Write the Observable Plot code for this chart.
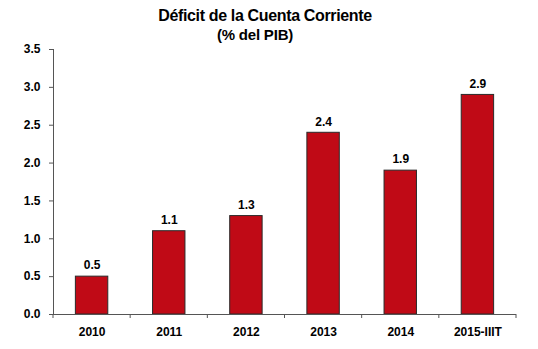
<!DOCTYPE html>
<html>
<head>
<meta charset="utf-8">
<script src="https://cdn.jsdelivr.net/npm/d3@7"></script>
<script src="https://cdn.jsdelivr.net/npm/@observablehq/plot@0.6"></script>
<style>
  body { margin: 0; background: #fff; font-family: "Liberation Sans", Arial, sans-serif; }
  #wrap { width: 538px; position: relative; }
  #title { position: absolute; left: 0; width: 530px; top: 7px; line-height: 18px; text-align: center; font-weight: bold; font-size: 16px; letter-spacing: -0.35px; color: #000; }
  #subtitle { position: absolute; left: 0; width: 510px; top: 26px; line-height: 18px; text-align: center; font-weight: bold; font-size: 15px; letter-spacing: -0.2px; color: #000; }
  #head { height: 40px; position: relative; }
  svg { display: block; }
</style>
</head>
<body>
<div id="wrap">
  <div id="head">
    <div id="title">Déficit de la Cuenta Corriente</div>
    <div id="subtitle">(% del PIB)</div>
  </div>
  <div id="chart"></div>
</div>
<script>
const categories = ["2010", "2011", "2012", "2013", "2014", "2015-IIIT"];
const values = [0.5, 1.1, 1.3, 2.4, 1.9, 2.9];
const yTicks = [0, 0.5, 1.0, 1.5, 2.0, 2.5, 3.0, 3.5];

const data = categories.map((c, i) => ({cat: c, i, value: values[i]}));
const boundaries = d3.range(categories.length + 1);

const axisColor = "#555";
const barFill = "#C00A16";

const plot = Plot.plot({
  width: 538,
  height: 309,
  marginTop: 9,
  marginBottom: 35,
  marginLeft: 53,
  marginRight: 22,
  style: { fontFamily: "'Liberation Sans', Arial, sans-serif", fontSize: "12px", fontWeight: "bold", color: "#000", background: "#fff" },
  x: { domain: [0, categories.length], axis: null },
  y: { domain: [0, 3.5], ticks: yTicks, tickFormat: d3.format(".1f"), label: null },
  marks: [
    Plot.rectY(data, { x1: d => d.i + 0.29, x2: d => d.i + 0.71, y1: 0, y2: "value", fill: barFill, stroke: "#2a2a2a", strokeWidth: 1 }),
    Plot.axisY({ ticks: yTicks, tickFormat: d3.format(".1f"), tickSize: 4, tickPadding: 9, label: null, stroke: axisColor, strokeOpacity: 1, fill: "#000", fontWeight: "bold", fontSize: 12 }),
    Plot.ruleX([0], { stroke: axisColor }),
    Plot.ruleY([0], { stroke: axisColor }),
    Plot.text(data, { x: d => d.i + 0.5, y: 0, text: "cat", dy: 18, fill: "#000", fontWeight: "bold", fontSize: 12 }),
    Plot.text(data, { x: d => d.i + 0.5, y: "value", text: d => d3.format(".1f")(d.value), dy: -11, fill: "#000", fontWeight: "bold", fontSize: 12 })
  ]
});
document.getElementById("chart").appendChild(plot);

// x-axis tick marks at category boundaries, drawn through the x scale
const xs = plot.scale("x");
const ys = plot.scale("y");
const svg = d3.select(plot);
svg.append("g").selectAll("line").data(boundaries).join("line")
  .attr("x1", d => xs.apply(d)).attr("x2", d => xs.apply(d))
  .attr("y1", ys.apply(0)).attr("y2", ys.apply(0) + 4)
  .attr("stroke", axisColor);
</script>
</body>
</html>
